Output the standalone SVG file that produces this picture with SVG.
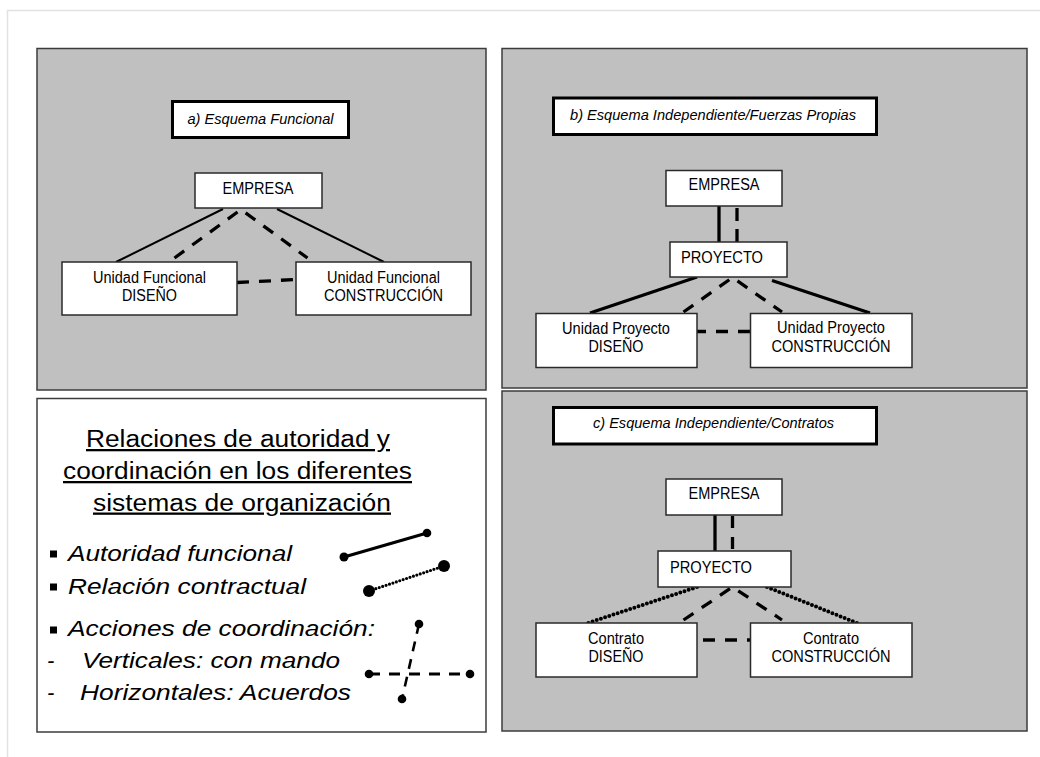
<svg xmlns="http://www.w3.org/2000/svg" width="1040" height="757" viewBox="0 0 1040 757">
  <style>
    .page { fill: none; stroke: #e2e2e2; stroke-width: 1.5; }
    .panel { fill: #c0c0c0; stroke: #3c3c3c; stroke-width: 1.5; }
    .legendbox { fill: #ffffff; stroke: #3c3c3c; stroke-width: 1.5; }
    .box { fill: #ffffff; stroke: #2a2a2a; stroke-width: 1.5; }
    .titlebox { fill: #ffffff; stroke: #000000; stroke-width: 3; }
    .lbl { font-family: "Liberation Sans", Arial, sans-serif; font-size: 15.6px; fill: #000; }
    .mid { text-anchor: middle; }
    .ttl { font-family: "Liberation Sans", Arial, sans-serif; font-size: 15.4px; font-style: italic; fill: #000; text-anchor: middle; }
    .head { font-family: "Liberation Sans", Arial, sans-serif; font-size: 23px; fill: #000; text-decoration: underline; }
    .item { font-family: "Liberation Sans", Arial, sans-serif; font-size: 22px; font-style: italic; fill: #000; }
    .solid { stroke: #000; stroke-width: 2; fill: none; }
    .solid-b { stroke: #000; stroke-width: 3.3; fill: none; }
    .dash { stroke: #000; stroke-width: 3.3; fill: none; stroke-dasharray: 12 10; }
    .dot { stroke: #000; stroke-width: 4; fill: none; stroke-dasharray: 0 4.4; stroke-linecap: round; }
    .end { fill: #000; }
  </style>

  <!-- page frame -->
  <path class="page" d="M7.5 757 V10.5 H1040"/>

  <!-- panels -->
  <rect id="panel-a" class="panel" x="37" y="48.5" width="449" height="341.5"/>
  <rect id="panel-b" class="panel" x="502" y="48.5" width="525" height="339.5"/>
  <rect id="panel-c" class="panel" x="502" y="391" width="525" height="340"/>

  <!-- connectors -->
  <g id="connectors">
    <!-- a) functional scheme -->
    <line class="solid" x1="223" y1="209" x2="116" y2="262"/>
    <line class="solid" x1="277" y1="209" x2="384" y2="262"/>
    <polyline class="dash" points="174.5,258 241,209.5 307.5,258"/>
    <line class="dash" x1="237" y1="282.5" x2="296" y2="279.5"/>

    <!-- b) own-forces scheme -->
    <line class="solid-b" x1="719" y1="206" x2="719" y2="242"/>
    <line class="dash" x1="737" y1="208" x2="737" y2="242" style="stroke-dasharray:13 8"/>
    <line class="solid-b" x1="697" y1="277" x2="590" y2="313"/>
    <line class="solid-b" x1="772" y1="280.5" x2="870" y2="313"/>
    <polyline class="dash" points="683.5,312 732.5,277.5 782,312"/>
    <line class="dash" x1="694" y1="331.5" x2="752" y2="331.5"/>

    <!-- c) contracts scheme -->
    <line class="solid-b" x1="715" y1="515" x2="715" y2="551"/>
    <line class="dash" x1="732.5" y1="516" x2="732.5" y2="551" style="stroke-dasharray:12 9"/>
    <line class="dot" x1="697" y1="587" x2="588" y2="623"/>
    <line class="dot" x1="767" y1="587" x2="857" y2="623"/>
    <polyline class="dash" points="683.5,620 732.5,587 782,620"/>
    <line class="dash" x1="703" y1="640" x2="752" y2="640"/>
  </g>

  <!-- a) nodes -->
  <g id="title-a">
    <rect class="titlebox" x="172.5" y="101.5" width="176" height="36"/>
    <text class="ttl" x="260.5" y="124" textLength="146" lengthAdjust="spacingAndGlyphs">a) Esquema Funcional</text>
  </g>
  <g id="a-empresa">
    <rect class="box" x="195" y="173" width="127" height="35"/>
    <text class="lbl mid" x="258" y="194" textLength="71" lengthAdjust="spacingAndGlyphs">EMPRESA</text>
  </g>
  <g id="a-diseno">
    <rect class="box" x="62" y="262" width="175" height="53"/>
    <text class="lbl mid" x="149.5" y="283" textLength="113" lengthAdjust="spacingAndGlyphs">Unidad Funcional</text>
    <text class="lbl mid" x="149.5" y="300.5" textLength="55" lengthAdjust="spacingAndGlyphs">DISEÑO</text>
  </g>
  <g id="a-construccion">
    <rect class="box" x="296" y="262" width="175" height="53"/>
    <text class="lbl mid" x="383.5" y="283" textLength="113" lengthAdjust="spacingAndGlyphs">Unidad Funcional</text>
    <text class="lbl mid" x="383.5" y="300.5" textLength="119" lengthAdjust="spacingAndGlyphs">CONSTRUCCIÓN</text>
  </g>

  <!-- b) nodes -->
  <g id="title-b">
    <rect class="titlebox" x="553.5" y="98" width="323" height="36.5"/>
    <text class="ttl" x="713" y="119.5" textLength="286" lengthAdjust="spacingAndGlyphs">b) Esquema Independiente/Fuerzas Propias</text>
  </g>
  <g id="b-empresa">
    <rect class="box" x="666" y="170.5" width="116" height="35.5"/>
    <text class="lbl mid" x="724" y="190" textLength="71" lengthAdjust="spacingAndGlyphs">EMPRESA</text>
  </g>
  <g id="b-proyecto">
    <rect class="box" x="670" y="242" width="117" height="35"/>
    <text class="lbl" x="681" y="262.5" textLength="82" lengthAdjust="spacingAndGlyphs">PROYECTO</text>
  </g>
  <g id="b-diseno">
    <rect class="box" x="536" y="313.5" width="161" height="54"/>
    <text class="lbl mid" x="616" y="334" textLength="108" lengthAdjust="spacingAndGlyphs">Unidad Proyecto</text>
    <text class="lbl mid" x="616" y="352" textLength="55" lengthAdjust="spacingAndGlyphs">DISEÑO</text>
  </g>
  <g id="b-construccion">
    <rect class="box" x="750.5" y="313.5" width="161.5" height="54"/>
    <text class="lbl mid" x="831" y="333" textLength="108" lengthAdjust="spacingAndGlyphs">Unidad Proyecto</text>
    <text class="lbl mid" x="831" y="351.5" textLength="119" lengthAdjust="spacingAndGlyphs">CONSTRUCCIÓN</text>
  </g>

  <!-- c) nodes -->
  <g id="title-c">
    <rect class="titlebox" x="553.5" y="407.5" width="323" height="36.5"/>
    <text class="ttl" x="713.5" y="428" textLength="241" lengthAdjust="spacingAndGlyphs">c) Esquema Independiente/Contratos</text>
  </g>
  <g id="c-empresa">
    <rect class="box" x="666" y="479" width="116" height="36"/>
    <text class="lbl mid" x="724" y="499" textLength="71" lengthAdjust="spacingAndGlyphs">EMPRESA</text>
  </g>
  <g id="c-proyecto">
    <rect class="box" x="658" y="551" width="133" height="36"/>
    <text class="lbl" x="670" y="572.5" textLength="82" lengthAdjust="spacingAndGlyphs">PROYECTO</text>
  </g>
  <g id="c-diseno">
    <rect class="box" x="536" y="623" width="161" height="54"/>
    <text class="lbl mid" x="616" y="643.5" textLength="56" lengthAdjust="spacingAndGlyphs">Contrato</text>
    <text class="lbl mid" x="616" y="661.5" textLength="55" lengthAdjust="spacingAndGlyphs">DISEÑO</text>
  </g>
  <g id="c-construccion">
    <rect class="box" x="750.5" y="623" width="161.5" height="54"/>
    <text class="lbl mid" x="831" y="643.5" textLength="56" lengthAdjust="spacingAndGlyphs">Contrato</text>
    <text class="lbl mid" x="831" y="661.5" textLength="119" lengthAdjust="spacingAndGlyphs">CONSTRUCCIÓN</text>
  </g>

  <!-- legend -->
  <g id="legend">
    <rect class="legendbox" x="37" y="398.5" width="449" height="333.5"/>
    <text class="head" x="86" y="447" textLength="304" lengthAdjust="spacingAndGlyphs">Relaciones de autoridad y</text>
    <text class="head" x="63" y="479" textLength="349" lengthAdjust="spacingAndGlyphs">coordinación en los diferentes</text>
    <text class="head" x="93" y="510.5" textLength="298" lengthAdjust="spacingAndGlyphs">sistemas de organización</text>

    <rect x="50" y="550.5" width="7" height="7" fill="#000"/>
    <rect x="50" y="583.5" width="7" height="7" fill="#000"/>
    <rect x="50" y="626.5" width="7" height="7" fill="#000"/>

    <text class="item" x="68" y="561" textLength="224" lengthAdjust="spacingAndGlyphs">Autoridad funcional</text>
    <text class="item" x="68" y="593.5" textLength="238" lengthAdjust="spacingAndGlyphs">Relación contractual</text>
    <text class="item" x="68" y="636" textLength="307" lengthAdjust="spacingAndGlyphs">Acciones de coordinación:</text>
    <text class="item" x="47" y="668">-</text>
    <text class="item" x="82" y="668" textLength="258" lengthAdjust="spacingAndGlyphs">Verticales: con mando</text>
    <text class="item" x="47" y="700">-</text>
    <text class="item" x="80" y="700" textLength="271" lengthAdjust="spacingAndGlyphs">Horizontales: Acuerdos</text>

    <!-- legend samples -->
    <line x1="344" y1="557" x2="427" y2="533" stroke="#000" stroke-width="3"/>
    <circle class="end" cx="344" cy="557" r="4.5"/>
    <circle class="end" cx="427" cy="533" r="4.3"/>

    <line x1="369" y1="591" x2="444" y2="566" stroke="#000" stroke-width="3.2" stroke-dasharray="0 3.6" stroke-linecap="round"/>
    <circle class="end" cx="369" cy="591" r="6"/>
    <circle class="end" cx="444" cy="566" r="6"/>

    <line x1="369" y1="674" x2="470" y2="674" stroke="#000" stroke-width="3" stroke-dasharray="11 9"/>
    <circle class="end" cx="369" cy="674" r="4.3"/>
    <circle class="end" cx="470" cy="674" r="4.3"/>
    <line x1="419" y1="624" x2="402" y2="699" stroke="#000" stroke-width="2.6" stroke-dasharray="10 8"/>
    <circle class="end" cx="419" cy="624" r="4.3"/>
    <circle class="end" cx="402" cy="699" r="4.3"/>
  </g>
</svg>
